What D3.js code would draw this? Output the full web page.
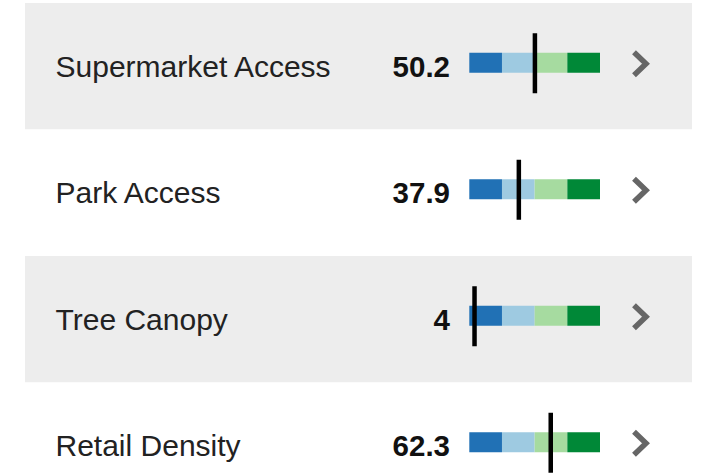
<!DOCTYPE html>
<html>
<head>
<meta charset="utf-8">
<script src="https://cdn.jsdelivr.net/npm/d3@7"></script>
<style>
  body { margin: 0; background: #fff; }
</style>
</head>
<body>
<script>
// data
let categories = ["Supermarket Access", "Park Access", "Tree Canopy", "Retail Density"];
let values = [50.2, 37.9, 4, 62.3];
let valueLabels = ["50.2", "37.9", "4", "62.3"];
let bands = [0, 25, 50, 75, 100];
let bandColors = ["#2171b5", "#9ecae1", "#a6dba0", "#008837"];

function main() {
    let width = 703, height = 473;
    let rowTop = 3, rowH = 126.5;

    let svg = d3.select("body").append("svg")
        .attr("width", width)
        .attr("height", height);

    let y = d3.scaleBand()
        .domain(categories)
        .range([rowTop, rowTop + rowH * categories.length])
        .padding(0);

    let x = d3.scaleLinear()
        .domain([0, 100])
        .range([469.3, 600]);

    let rows = svg.selectAll("g.row")
        .data(categories)
        .enter()
        .append("g")
        .attr("class", "row")
        .attr("transform", d => "translate(0," + y(d) + ")");

    rows.append("rect")
        .attr("x", 25)
        .attr("y", 0)
        .attr("width", 667)
        .attr("height", y.bandwidth())
        .attr("fill", (d, i) => i % 2 == 0 ? "#ededed" : "#ffffff");

    let mid = y.bandwidth() / 2;

    rows.append("text")
        .attr("x", 55.5)
        .attr("y", mid + 10.5)
        .attr("font-family", "Liberation Sans, Arial, sans-serif")
        .attr("font-size", "30px")
        .attr("fill", "#222")
        .text(d => d);

    rows.append("text")
        .attr("x", 450)
        .attr("y", mid + 10.5)
        .attr("text-anchor", "end")
        .attr("font-family", "Liberation Sans, Arial, sans-serif")
        .attr("font-size", "29.5px")
        .attr("font-weight", "bold")
        .attr("fill", "#111")
        .text((d, i) => valueLabels[i]);

    // coloured band segments
    rows.each(function(d, i) {
        let g = d3.select(this);
        g.selectAll("rect.band")
            .data(bandColors)
            .enter()
            .append("rect")
            .attr("class", "band")
            .attr("x", (c, j) => x(bands[j]))
            .attr("y", mid - 13.5)
            .attr("width", (c, j) => x(bands[j + 1]) - x(bands[j]))
            .attr("height", 20)
            .attr("fill", c => c);

        g.append("line")
            .attr("x1", x(values[i]))
            .attr("x2", x(values[i]))
            .attr("y1", mid - 33)
            .attr("y2", mid + 27)
            .attr("stroke", "#000")
            .attr("stroke-width", 4.5);

        // chevron
        g.append("path")
            .attr("d", "M634," + (mid - 14) + " L646," + (mid - 2.5) + " L634," + (mid + 9))
            .attr("fill", "none")
            .attr("stroke", "#666")
            .attr("stroke-width", 5.5);
    });
}

main();
</script>
</body>
</html>
